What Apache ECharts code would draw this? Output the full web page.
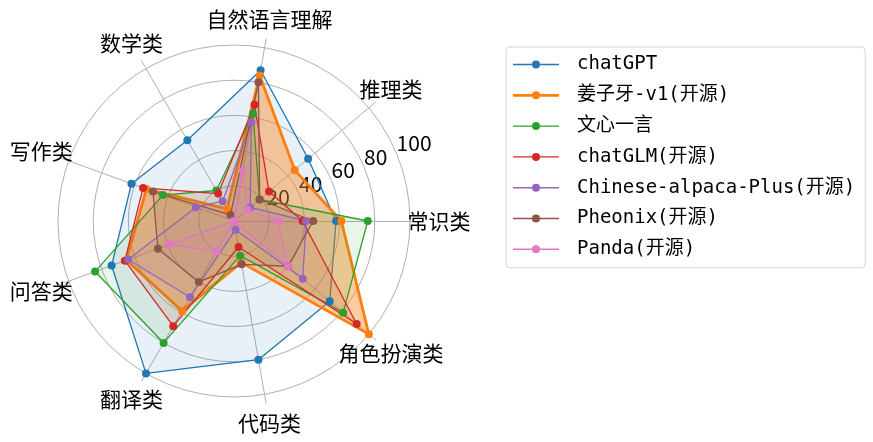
<!DOCTYPE html>
<html><head><meta charset="utf-8">
<script src="https://cdn.jsdelivr.net/npm/echarts@6/dist/echarts.min.js"></script>
<style>html,body{margin:0;padding:0;background:#fff}#c{width:873px;height:442px}</style>
</head><body><div id="c"></div>
<script>
const categories = ['常识类','推理类','自然语言理解','数学类','写作类','问答类','翻译类','代码类','角色扮演类'];
const seriesNames = ['chatGPT','姜子牙-v1(开源)','文心一言','chatGLM(开源)','Chinese-alpaca-Plus(开源)','Pheonix(开源)','Panda(开源)'];
const chatGPT   = [58, 55, 87, 53, 62, 74, 100, 80, 71];
const jiangziya = [61, 45, 84, 8, 53, 65, 59, 24, 100];
const wenxin    = [76, 19, 62, 20, 43, 84, 80, 20, 81];
const chatGLM   = [39, 26, 67, 18, 55, 66, 69, 15, 91];
const alpaca    = [41, 12, 57, 13, 23, 64, 50, 5, 51];
const pheonix   = [45, 19, 80, 4, 49, 46, 40, 25, 40];
const panda     = [25, 10, 29, 0, 0, 39, 20, 0, 40];
const radialTicks = [20, 40, 60, 80, 100];

const allValues = [chatGPT, jiangziya, wenxin, chatGLM, alpaca, pheonix, panda];
const colors = ['#1f77b4','#ff7f0e','#2ca02c','#d62728','#9467bd','#8c564b','#e377c2'];
const thinIcon = 'path://M0,3.3H46V4.7H0Z M27,4A4,4 0 1 1 19,4A4,4 0 1 1 27,4Z';
const thickIcon = 'path://M0,2.6H46V5.4H0Z M27,4A4,4 0 1 1 19,4A4,4 0 1 1 27,4Z';
const FONT = "'Noto Sans CJK SC', sans-serif";
const center = [234, 221];

const chart = echarts.init(document.getElementById('c'), null, {renderer: 'canvas'});
const indicator = categories.map(c => ({name: c, min: 0, max: 100}));

chart.setOption({
  animation: false,
  backgroundColor: '#fff',
  legend: {
    orient: 'vertical', left: 506, top: 47,
    itemWidth: 46, itemHeight: 8, itemGap: 11.8,
    padding: [8, 10, 9, 7],
    borderColor: '#d4d4d4', borderWidth: 1, borderRadius: 4,
    textStyle: {fontSize: 19, color: '#000', fontFamily: "'DejaVu Sans Mono', 'Noto Sans CJK SC', monospace", padding: [0, 0, 0, 13]},
    data: seriesNames.map((n, i) => ({name: n, icon: i === 1 ? thickIcon : thinIcon}))
  },
  radar: [
    {
      center: center, radius: 185, startAngle: 0, shape: 'circle', splitNumber: 5,
      indicator: indicator,
      axisName: {show: false},
      axisLine: {show: true, lineStyle: {color: '#b0b0b0', width: 1}},
      splitLine: {show: false}, splitArea: {show: false},
      axisTick: {show: false}, axisLabel: {show: false}
    },
    {
      center: center, radius: 176, startAngle: 0, shape: 'circle', splitNumber: 5,
      indicator: indicator,
      nameGap: 29,
      axisName: {show: true, color: '#000', fontSize: 21, fontFamily: FONT, align: 'center', verticalAlign: 'middle'},
      axisLine: {show: false},
      splitLine: {show: true, lineStyle: {color: '#b0b0b0', width: 1}},
      splitArea: {show: false},
      axisTick: {show: false}, axisLabel: {show: false}
    },
    {
      center: center, radius: 176, startAngle: 22.5, shape: 'circle', splitNumber: 5,
      indicator: [{name: '', min: 0, max: 100}],
      axisName: {show: false},
      axisLine: {show: false}, splitLine: {show: false}, splitArea: {show: false},
      axisTick: {show: false},
      axisLabel: {
        show: true, fontSize: 21, color: '#000', fontFamily: FONT, margin: 0,
        align: 'left', verticalAlign: 'bottom',
        formatter: v => radialTicks.indexOf(v) >= 0 ? String(v) : ''
      }
    }
  ],
  series: seriesNames.map((n, i) => ({
    type: 'radar', radarIndex: 1, name: n,
    symbol: 'circle', symbolSize: 8,
    lineStyle: {width: i === 1 ? 2.8 : 1.3, color: colors[i]},
    itemStyle: {color: colors[i]},
    areaStyle: {color: colors[i], opacity: i === 1 ? 0.4 : 0.1},
    emphasis: {disabled: true},
    data: [{name: n, value: allValues[i]}]
  }))
});
</script></body></html>
